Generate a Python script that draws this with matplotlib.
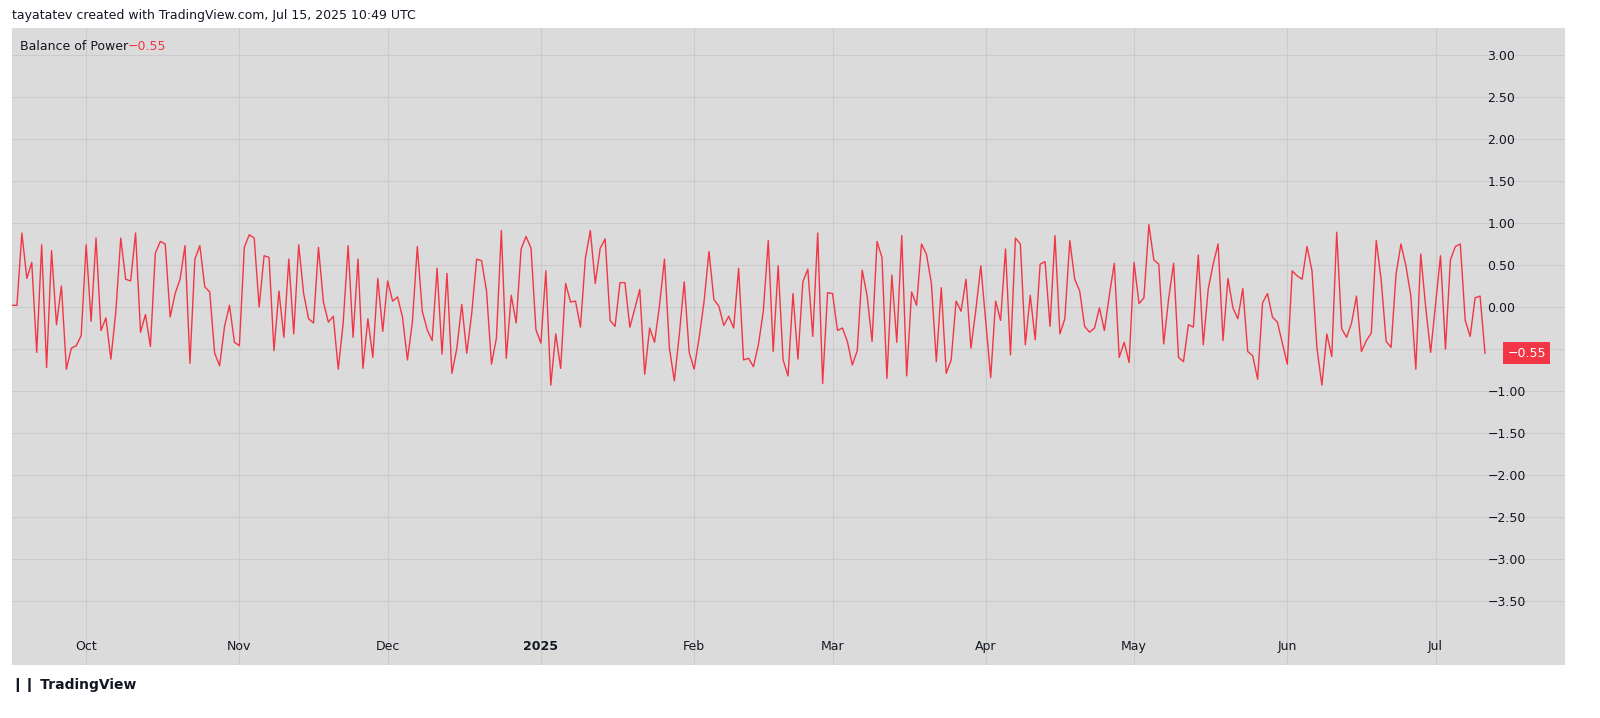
import matplotlib

matplotlib.use("Agg")
import matplotlib.pyplot as plt
import numpy as np
import pandas as pd

# Balance of Power, daily values
bop_values = [
    0.02, 0.02, 0.88, 0.34, 0.53, -0.54, 0.74, -0.72, 0.67, -0.21, 0.25, -0.74, -0.49, -0.46, -0.34,
    0.74, -0.17, 0.82, -0.28, -0.13, -0.62, -0.06, 0.82, 0.33, 0.31, 0.88, -0.30, -0.09, -0.47, 0.64,
    0.78, 0.75, -0.12, 0.16, 0.33, 0.73, -0.67, 0.57, 0.73, 0.24, 0.18, -0.55, -0.70, -0.23, 0.02,
    -0.42, -0.46, 0.71, 0.86,
    0.82, 0.0, 0.61, 0.59, -0.52, 0.19, -0.36, 0.57, -0.32, 0.74, 0.16, -0.14, -0.19, 0.71, 0.06,
    -0.18, -0.11, -0.74, -0.19, 0.73, -0.36, 0.57, -0.73, -0.14, -0.60, 0.34, -0.29, 0.31, 0.07, 0.12,
    -0.12, -0.63, -0.18, 0.72, -0.05, -0.27, -0.40, 0.46, -0.56, 0.40, -0.79, -0.49, 0.03, -0.55,
    -0.08, 0.57, 0.55, 0.19, -0.68,
    -0.37, 0.91, -0.61, 0.14, -0.19, 0.69, 0.84, 0.70, -0.27, -0.43, 0.43, -0.93, -0.32, -0.73, 0.28,
    0.06, 0.07, -0.24, 0.58, 0.91, 0.28, 0.70, 0.81, -0.16, -0.23, 0.29, 0.29, -0.24, -0.02, 0.21,
    -0.80, -0.25, -0.42, 0.02, 0.57, -0.49, -0.88, -0.33, 0.30, -0.54, -0.74, -0.37, 0.06, 0.66,
    0.09, 0.01, -0.22, -0.11, -0.25, 0.46,
    -0.63, -0.61, -0.71, -0.45, -0.05, 0.79, -0.53, 0.49, -0.63, -0.82, 0.16, -0.62, 0.30, 0.45,
    -0.35, 0.88, -0.91, 0.17, 0.16, -0.28, -0.25, -0.41, -0.69, -0.52, 0.44, 0.13, -0.41, 0.78, 0.59,
    -0.85, 0.38, -0.42, 0.85, -0.82, 0.18, 0.02, 0.75, 0.63, 0.28, -0.65, 0.23, -0.79, -0.63, 0.07,
    -0.05, 0.33, -0.49, -0.03, 0.49, -0.18,
    -0.84, 0.07, -0.16, 0.69, -0.57, 0.82, 0.75, -0.45, 0.14, -0.39, 0.51, 0.54, -0.23, 0.85, -0.32,
    -0.14, 0.79, 0.33, 0.19, -0.23, -0.30, -0.25, -0.01, -0.28, 0.14, 0.52, -0.60, -0.42, -0.66,
    0.53, 0.04, 0.11, 0.98, 0.56, 0.51, -0.44, 0.10, 0.52, -0.60, -0.65, -0.21, -0.24, 0.62, -0.45,
    0.21, 0.51, 0.75, -0.40, 0.34, -0.01, -0.14,
    0.22, -0.53, -0.58, -0.86, 0.05, 0.16, -0.12, -0.18, -0.43, -0.68, 0.43, 0.37, 0.33, 0.72, 0.43,
    -0.49, -0.93, -0.32, -0.59, 0.89, -0.26, -0.36, -0.19, 0.13, -0.53, -0.40, -0.31, 0.79, 0.32,
    -0.41, -0.48, 0.39, 0.75, 0.49, 0.13, -0.74, 0.63, 0.0, -0.54, 0.04, 0.61, -0.50, 0.56, 0.72,
    0.75, -0.16, -0.35, 0.11, 0.13, -0.55,
]
start_date = "2024-09-16"
month_ticks = ["2024-10-01", "2024-11-01", "2024-12-01", "2025-01-01", "2025-02-01", "2025-03-01",
               "2025-04-01", "2025-05-01", "2025-06-01", "2025-07-01"]
month_labels = ["Oct", "Nov", "Dec", "2025", "Feb", "Mar", "Apr", "May", "Jun", "Jul"]
y_ticks = np.arange(-3.5, 3.01, 0.5)

dates = pd.date_range(start_date, periods=len(bop_values), freq="D")
last_val = bop_values[-1]
RED = "#f23645"
INK = "#131722"


def fmt(v):
    return f"{v:.2f}".replace("-", "\u2212")


plt.rcParams["font.family"] = ["DejaVu Sans"]
fig = plt.figure(figsize=(16, 7.18), dpi=100)
fig.patch.set_facecolor("white")
W, H = 1600, 718
ax = fig.add_axes([12 / W, 1 - 665 / H, (1565 - 12) / W, (665 - 28) / H])
ax.set_facecolor("#dbdbdb")
for s in ax.spines.values():
    s.set_visible(False)

ax.plot(dates, bop_values, color=RED, lw=1.0)

span = (1485 - 12) / (len(bop_values) - 1)
ax.set_xlim(dates[0], dates[-1] + pd.Timedelta(days=(1565 - 1485) / span))
ax.set_ylim(-4.26, 3.32)

# y labels live inside the plot on the right; the one under the value tag is hidden
ax.yaxis.tick_right()
ax.set_yticks(y_ticks)
ax.set_yticklabels(["" if abs(v + 0.5) < 1e-9 else fmt(v) for v in y_ticks])
ax.tick_params(axis="y", length=0, pad=-56, labelsize=9, labelcolor=INK)
ax.set_xticks(pd.to_datetime(month_ticks))
ax.set_xticklabels(month_labels)
ax.tick_params(axis="x", length=0, pad=-18, labelsize=9, labelcolor=INK)
for lbl in ax.get_xticklabels():
    if lbl.get_text() == "2025":
        lbl.set_fontweight("bold")
ax.grid(True, color="#cbcbcb", lw=0.8)
ax.set_axisbelow(True)

# last value tag
ax.text(1.0 - 19 / (1565 - 12), last_val, fmt(last_val),
        transform=ax.get_yaxis_transform(), ha="right", va="center", color="white", fontsize=9,
        bbox=dict(boxstyle="square,pad=0.35", fc=RED, ec="none"))

fig.text(12 / W, 1 - 16 / H, "tayatatev created with TradingView.com, Jul 15, 2025 10:49 UTC",
         fontsize=9, va="center", color=INK)
fig.text(20 / W, 1 - 46 / H, "Balance of Power", fontsize=9, va="center", color=INK)
fig.text(128 / W, 1 - 46 / H, fmt(last_val), fontsize=9, va="center", color=RED)
fig.text(12 / W, 1 - 685 / H, "\u2759\u2759 TradingView", fontsize=10, va="center",
         color=INK, fontweight="bold")

fig.savefig("out.png", dpi=100)
